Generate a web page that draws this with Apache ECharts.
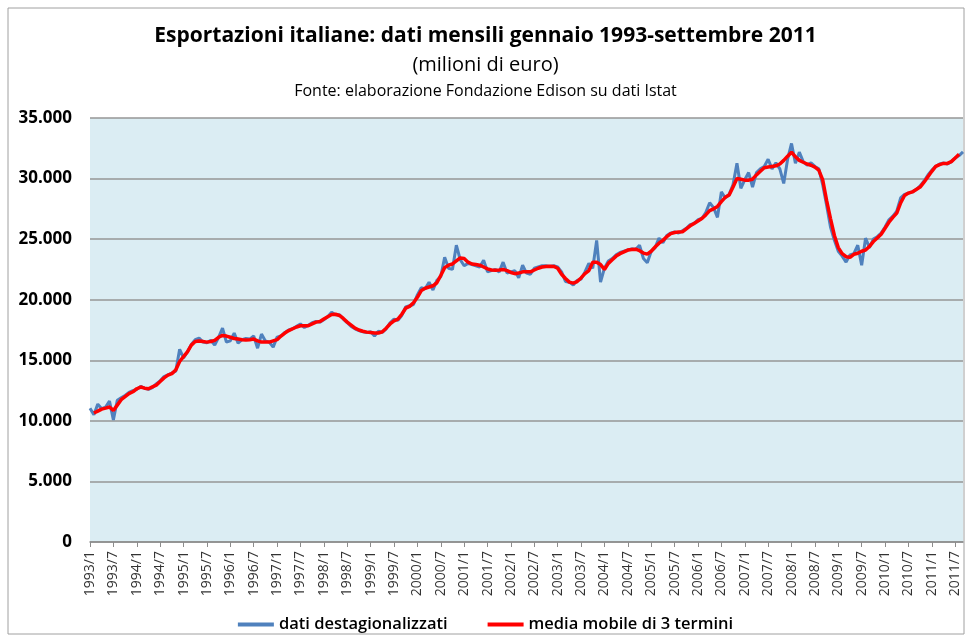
<!DOCTYPE html>
<html>
<head>
<meta charset="utf-8">
<script src="https://cdn.jsdelivr.net/npm/echarts@6/dist/echarts.min.js"></script>
<style>
  html, body { margin: 0; padding: 0; background: #ffffff; }
  #chart { width: 971px; height: 641px; }
</style>
</head>
<body>
<div id="chart"></div>
<script>
"use strict";
/** Monthly data, January 1993 - September 2011 (millions of euro) */
const startYear = 1993;
const monthCount = 225;
/** Category labels "1993/1" ... "2011/9" */
let months = [];
for (let i = 0; i < monthCount; i++) {
    months.push((startYear + Math.floor(i / 12)) + "/" + (i % 12 + 1));
}
/* ============= seasonally adjusted data, one row per year ============= */
const destag1993 = [11050, 10500, 11380, 11000, 11140, 11630, 10065, 11700, 11900, 12100, 12350, 12500];
const destag1994 = [12600, 12850, 12700, 12600, 12750, 13050, 13300, 13650, 13800, 13950, 14100, 15900];
const destag1995 = [15200, 15700, 16300, 16700, 16830, 16500, 16450, 16650, 16250, 16900, 17650, 16500];
const destag1996 = [16600, 17240, 16420, 16700, 16800, 16750, 17000, 16000, 17160, 16600, 16500, 16090];
const destag1997 = [16910, 17000, 17300, 17500, 17600, 17800, 18000, 17700, 17900, 18100, 18200, 18150];
const destag1998 = [18350, 18600, 18975, 18750, 18750, 18400, 18100, 17800, 17600, 17450, 17350, 17300];
const destag1999 = [17350, 17000, 17400, 17300, 17600, 18100, 18400, 18300, 18700, 19400, 19500, 19600];
const destag2000 = [20400, 21000, 20900, 21450, 20800, 21600, 21900, 23500, 22600, 22500, 24500, 23300];
const destag2001 = [22800, 23000, 22900, 22800, 22700, 23250, 22300, 22400, 22500, 22300, 23100, 22200];
const destag2002 = [22300, 22400, 21800, 22850, 22200, 22100, 22600, 22700, 22800, 22800, 22750, 22800];
const destag2003 = [22700, 22300, 21500, 21450, 21200, 21600, 21700, 22300, 23000, 22600, 24900, 21450];
const destag2004 = [22600, 23200, 23400, 23700, 23900, 24000, 24100, 24200, 24150, 24500, 23400, 23050];
const destag2005 = [24000, 24300, 25080, 24700, 25300, 25500, 25600, 25500, 25700, 25900, 26200, 26300];
const destag2006 = [26600, 26700, 27200, 28000, 27600, 26800, 28900, 28400, 28700, 29500, 31270, 29200];
const destag2007 = [29900, 30500, 29300, 30500, 30800, 31000, 31600, 30800, 31300, 30800, 29600, 31600];
const destag2008 = [32900, 31270, 32180, 31400, 31100, 31300, 31000, 30800, 29500, 27800, 26000, 24900];
const destag2009 = [24000, 23600, 23100, 23700, 23800, 24500, 22850, 25080, 24300, 25000, 25200, 25500];
const destag2010 = [26000, 26600, 26900, 27300, 28400, 28700, 28800, 28900, 29100, 29400, 29800, 30300];
const destag2011 = [30700, 31000, 31200, 31300, 31200, 31400, 31700, 31900, 32200];
/* ============= 3-term moving average, as drawn (no value at both ends) ============= */
const media1993 = [null, 10650, 10800, 10970, 11050, 11140, 10850, 11300, 11750, 12000, 12250, 12400];
const media1994 = [12650, 12790, 12700, 12650, 12800, 12950, 13250, 13550, 13780, 13900, 14200, 14900];
const media1995 = [15300, 15700, 16250, 16550, 16600, 16550, 16500, 16550, 16650, 16900, 17050, 17000];
const media1996 = [16900, 16800, 16750, 16700, 16670, 16700, 16750, 16600, 16500, 16500, 16500, 16600];
const media1997 = [16700, 17000, 17250, 17450, 17600, 17750, 17850, 17850, 17850, 18000, 18150, 18200];
const media1998 = [18400, 18600, 18780, 18800, 18700, 18450, 18150, 17900, 17650, 17500, 17400, 17325];
const media1999 = [17300, 17250, 17250, 17350, 17650, 18000, 18250, 18400, 18800, 19300, 19450, 19750];
const media2000 = [20200, 20750, 20950, 21050, 21150, 21400, 22000, 22650, 22850, 22950, 23200, 23450];
const media2001 = [23400, 23100, 22950, 22900, 22850, 22700, 22550, 22450, 22440, 22450, 22500, 22400];
const media2002 = [22250, 22150, 22200, 22300, 22300, 22300, 22450, 22600, 22700, 22750, 22770, 22750];
const media2003 = [22600, 22100, 21750, 21450, 21370, 21500, 21800, 22150, 22400, 23100, 23100, 22900];
const media2004 = [22500, 23000, 23300, 23600, 23800, 23950, 24100, 24150, 24170, 24050, 23850, 23760];
const media2005 = [24000, 24350, 24670, 24900, 25200, 25450, 25550, 25580, 25600, 25850, 26100, 26300];
const media2006 = [26500, 26700, 27000, 27350, 27500, 27700, 28100, 28450, 28650, 29300, 30000, 29950];
const media2007 = [29870, 29870, 29950, 30300, 30600, 30900, 30950, 31000, 31050, 31200, 31500, 31850];
const media2008 = [32180, 31800, 31500, 31350, 31200, 31100, 30950, 30700, 29900, 28200, 26700, 25300];
const media2009 = [24300, 23800, 23550, 23500, 23750, 23840, 24000, 24100, 24400, 24800, 25100, 25400];
const media2010 = [25900, 26400, 26800, 27150, 28000, 28600, 28800, 28900, 29100, 29300, 29700, 30150];
const media2011 = [30600, 31000, 31150, 31250, 31250, 31400, 31700, 32000, null];

const destagionalizzati = [].concat(destag1993, destag1994, destag1995, destag1996, destag1997,
    destag1998, destag1999, destag2000, destag2001, destag2002, destag2003, destag2004, destag2005,
    destag2006, destag2007, destag2008, destag2009, destag2010, destag2011);
const mediaMobile = [].concat(media1993, media1994, media1995, media1996, media1997,
    media1998, media1999, media2000, media2001, media2002, media2003, media2004, media2005,
    media2006, media2007, media2008, media2009, media2010, media2011);

const fontName = "'Open Sans', 'Noto Sans', sans-serif";
/** 35000 -> "35.000" */
function FormatThousands(v) {
    return String(v).replace(/\B(?=(\d{3})+(?!\d))/g, ".");
}

let chart = echarts.init(document.getElementById("chart"));
chart.setOption({
    animation: false,
    textStyle: { fontFamily: fontName },
    title: [
        {
            text: "Esportazioni italiane: dati mensili gennaio 1993-settembre 2011",
            left: "center", top: 21,
            textStyle: { fontSize: 21, fontWeight: "bold", color: "#000000", fontFamily: fontName }
        },
        {
            text: "(milioni di euro)",
            left: "center", top: 50,
            textStyle: { fontSize: 20, fontWeight: "normal", color: "#000000", fontFamily: fontName }
        },
        {
            text: "Fonte: elaborazione Fondazione Edison su dati Istat",
            left: "center", top: 78,
            textStyle: { fontSize: 16, fontWeight: "normal", color: "#000000", fontFamily: fontName }
        }
    ],
    graphic: [{
        type: "rect",
        shape: { x: 8, y: 8, width: 956, height: 626 },
        style: { fill: "none", stroke: "#a0a0a0", lineWidth: 1 },
        silent: true
    }],
    legend: {
        bottom: 3,
        left: "center",
        itemGap: 40,
        itemWidth: 36,
        itemHeight: 4,
        icon: "rect",
        textStyle: { fontSize: 16.5, fontWeight: 600, color: "#000000", fontFamily: fontName },
        data: ["dati destagionalizzati", "media mobile di 3 termini"]
    },
    grid: {
        left: 90, right: 8, top: 118, bottom: 99,
        show: true,
        backgroundColor: "#dbedf3",
        borderWidth: 0
    },
    xAxis: {
        type: "category",
        data: months,
        boundaryGap: false,
        axisLine: { lineStyle: { color: "#8c8c8c", width: 1.5 } },
        axisTick: { show: true, interval: 5, lineStyle: { color: "#8c8c8c" } },
        axisLabel: {
            interval: 5,
            rotate: 90,
            fontSize: 14,
            color: "#333333",
            margin: 9,
            fontFamily: fontName
        },
        splitLine: { show: false }
    },
    yAxis: {
        type: "value",
        min: 0,
        max: 35000,
        interval: 5000,
        axisLine: { show: false },
        axisTick: { show: false },
        axisLabel: {
            formatter: FormatThousands,
            fontSize: 17,
            fontWeight: "bold",
            color: "#000000",
            margin: 18,
            fontFamily: fontName
        },
        splitLine: { lineStyle: { color: "#969696", width: 1.5 } }
    },
    series: [
        {
            name: "dati destagionalizzati",
            type: "line",
            data: destagionalizzati,
            symbol: "none",
            itemStyle: { color: "#4f81bd" },
            lineStyle: { color: "#4f81bd", width: 3 },
            z: 2
        },
        {
            name: "media mobile di 3 termini",
            type: "line",
            data: mediaMobile,
            symbol: "none",
            connectNulls: false,
            itemStyle: { color: "#ff0000" },
            lineStyle: { color: "#ff0000", width: 3.5 },
            z: 3
        }
    ]
});
</script>
</body>
</html>
